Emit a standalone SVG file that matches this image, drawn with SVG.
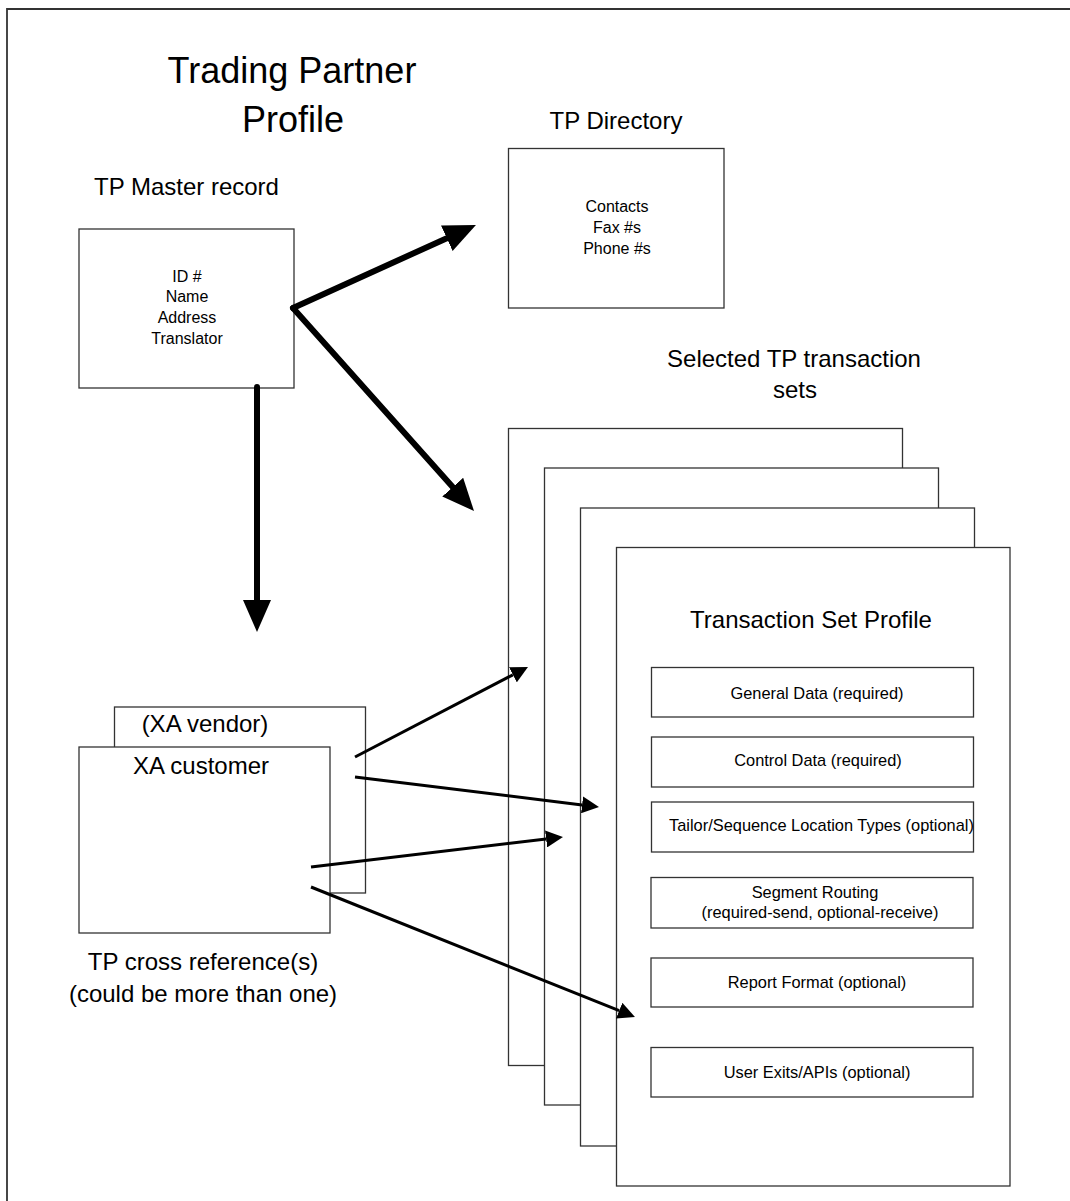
<svg xmlns="http://www.w3.org/2000/svg" width="1070" height="1201" viewBox="0 0 1070 1201">
<style>
text{font-family:"Liberation Sans",Arial,sans-serif;fill:#000}
.big{font-size:36px}
.lbl{font-size:24px}
.sm{font-size:16px}
.in{font-size:16.4px}
.box{fill:#fff;stroke:#333;stroke-width:1.3}
.thick{stroke:#000;stroke-width:6;fill:none;stroke-linecap:round;stroke-linejoin:round}
.thin{stroke:#000;stroke-width:3;fill:none}
.mid{text-anchor:middle}
</style>
<defs>
<marker id="hb" markerUnits="userSpaceOnUse" viewBox="0 0 32 28" refX="0" refY="14" markerWidth="32" markerHeight="28" orient="auto">
<path d="M0,0 L32,14 L0,28 z" fill="#000"/>
</marker>
<marker id="hs" markerUnits="userSpaceOnUse" viewBox="0 0 17 17" refX="0" refY="8.5" markerWidth="17" markerHeight="17" orient="auto">
<path d="M0,0 L17,8.5 L0,17 z" fill="#000"/>
</marker>
</defs>
<rect width="1070" height="1201" fill="#fff"/>
<path d="M7,1201 V9 H1070" fill="none" stroke="#333" stroke-width="1.8"/>

<g id="title">
<text class="big mid" x="292" y="83">Trading Partner</text>
<text class="big mid" x="293" y="132">Profile</text>
</g>

<g id="tp-master">
<text class="lbl" x="94" y="195">TP Master record</text>
<rect class="box" x="79" y="229" width="215" height="159"/>
<text class="sm mid" x="187" y="282">ID #</text>
<text class="sm mid" x="187" y="302">Name</text>
<text class="sm mid" x="187" y="323">Address</text>
<text class="sm mid" x="187" y="344">Translator</text>
</g>

<g id="tp-directory">
<text class="lbl mid" x="616" y="129">TP Directory</text>
<rect class="box" x="508.5" y="148.5" width="215.5" height="159.5"/>
<text class="sm mid" x="617" y="212">Contacts</text>
<text class="sm mid" x="617" y="233">Fax #s</text>
<text class="sm mid" x="617" y="254">Phone #s</text>
</g>

<g id="transaction-sets">
<text class="lbl mid" x="794" y="367">Selected TP transaction</text>
<text class="lbl mid" x="795" y="398">sets</text>
<rect class="box" x="508.5" y="428.5" width="394" height="637"/>
<rect class="box" x="544.5" y="468" width="394" height="637"/>
<rect class="box" x="580.5" y="508" width="394" height="638"/>
<rect class="box" x="616.5" y="547.5" width="393.5" height="638.5"/>
<text class="lbl mid" x="811" y="628">Transaction Set Profile</text>
</g>

<g id="general-data">
<rect class="box" x="651.5" y="667.5" width="322" height="49.5"/>
<text class="in mid" x="817" y="699">General Data (required)</text>
</g>
<g id="control-data">
<rect class="box" x="651.5" y="737" width="322" height="50"/>
<text class="in mid" x="818" y="766">Control Data (required)</text>
</g>
<g id="tailor-sequence">
<rect class="box" x="651.5" y="802" width="322" height="50"/>
<text class="in" x="669" y="831">Tailor/Sequence Location Types (optional)</text>
</g>
<g id="segment-routing">
<rect class="box" x="651" y="877.5" width="322" height="50.5"/>
<text class="in mid" x="815" y="898">Segment Routing</text>
<text class="in mid" x="820" y="918">(required-send, optional-receive)</text>
</g>
<g id="report-format">
<rect class="box" x="651" y="958" width="322" height="49"/>
<text class="in mid" x="817" y="988">Report Format (optional)</text>
</g>
<g id="user-exits">
<rect class="box" x="651" y="1047.5" width="322" height="49.5"/>
<text class="in mid" x="817" y="1078">User Exits/APIs (optional)</text>
</g>

<g id="cross-reference">
<rect class="box" x="114.5" y="707" width="251" height="186"/>
<text class="lbl mid" x="205" y="732">(XA vendor)</text>
<rect class="box" x="79" y="747" width="251" height="186"/>
<text class="lbl mid" x="201" y="774">XA customer</text>
<text class="lbl mid" x="203" y="970">TP cross reference(s)</text>
<text class="lbl mid" x="203" y="1002">(could be more than one)</text>
</g>

<g id="connectors">
<line class="thick" x1="293" y1="308" x2="446.8" y2="238.2" marker-end="url(#hb)"/>
<line class="thick" x1="293" y1="308" x2="452.7" y2="487.1" marker-end="url(#hb)"/>
<line class="thick" x1="257" y1="387" x2="257" y2="600" marker-end="url(#hb)"/>
<line class="thin" x1="355" y1="757" x2="512.9" y2="674.8" marker-end="url(#hs)"/>
<line class="thin" x1="355" y1="777" x2="582.1" y2="804.9" marker-end="url(#hs)"/>
<line class="thin" x1="311" y1="867" x2="546.1" y2="839" marker-end="url(#hs)"/>
<line class="thin" x1="311" y1="887" x2="619.2" y2="1010.7" marker-end="url(#hs)"/>
</g>
</svg>
